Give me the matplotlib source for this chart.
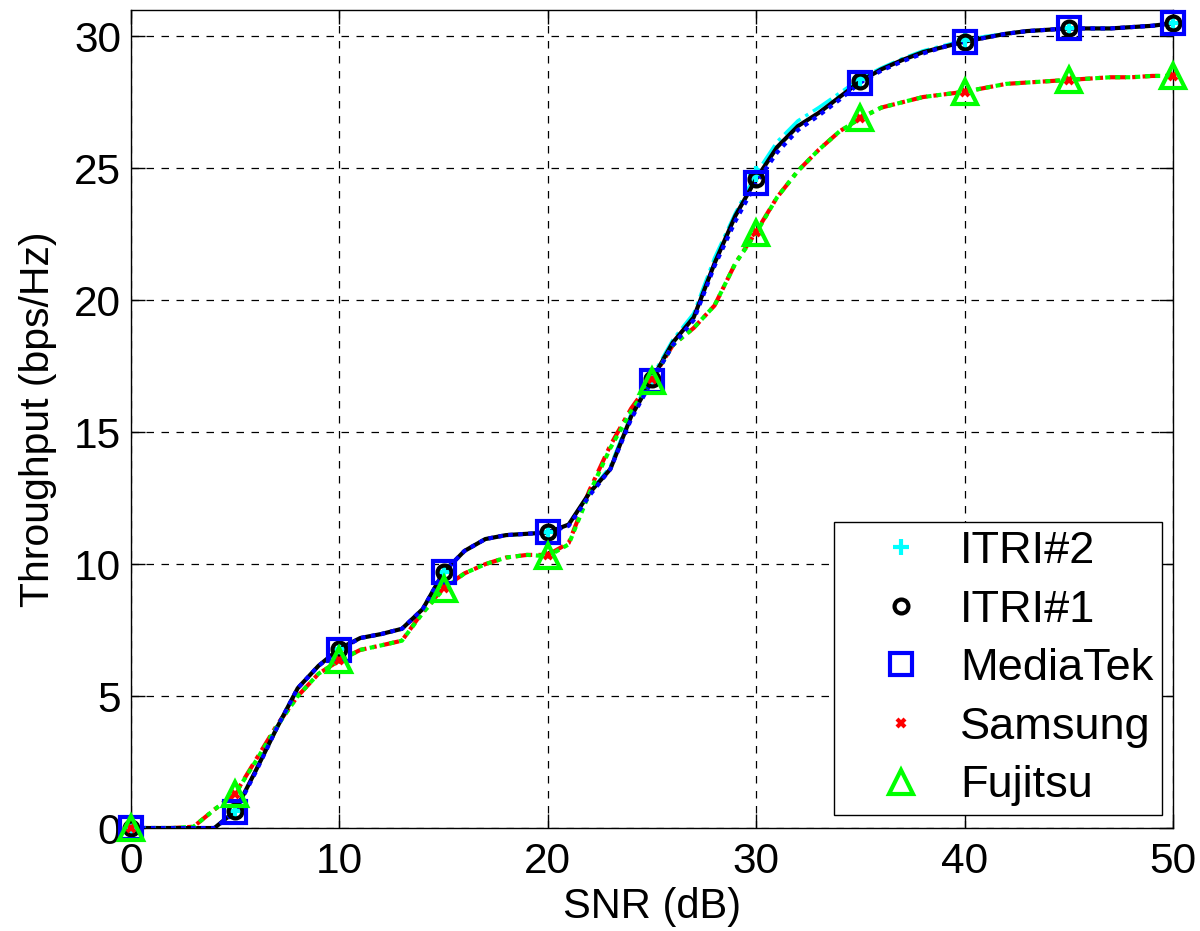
import numpy as np
import matplotlib
matplotlib.use("Agg")
import matplotlib.pyplot as plt

# SNR axis (dB) and throughput curves (bps/Hz)
snr = np.arange(0, 51)

itri2 = [0, 0, 0, 0, 0, 0.65, 2.2, 3.8, 5.3, 6.15,
         6.8, 7.2, 7.35, 7.55, 8.3, 9.7, 10.5, 10.95, 11.1, 11.15,
         11.2, 11.5, 12.7, 13.7, 15.7, 17.1, 18.5, 19.5, 21.6, 23.3,
         24.8, 26.0, 26.8, 27.3, 27.85, 28.4, 28.8, 29.15, 29.45, 29.65,
         29.85, 30.0, 30.1, 30.2, 30.25, 30.3, 30.3, 30.3, 30.35, 30.4, 30.5]

itri1 = [0, 0, 0, 0, 0, 0.65, 2.2, 3.8, 5.3, 6.15,
         6.8, 7.2, 7.35, 7.55, 8.3, 9.7, 10.5, 10.95, 11.1, 11.15,
         11.2, 11.5, 12.7, 13.6, 15.6, 17.0, 18.4, 19.35, 21.4, 23.2,
         24.6, 25.8, 26.6, 27.1, 27.7, 28.3, 28.75, 29.1, 29.4, 29.6,
         29.8, 29.95, 30.1, 30.2, 30.25, 30.3, 30.3, 30.3, 30.35, 30.4, 30.5]

mediatek = [0, 0, 0, 0, 0, 0.6, 2.15, 3.8, 5.3, 6.15,
            6.75, 7.2, 7.35, 7.55, 8.3, 9.7, 10.5, 10.95, 11.1, 11.15,
            11.2, 11.45, 12.6, 13.6, 15.5, 16.95, 18.3, 19.25, 21.3, 23.0,
            24.45, 25.6, 26.45, 27.0, 27.6, 28.25, 28.7, 29.05, 29.35, 29.6,
            29.8, 29.95, 30.1, 30.2, 30.25, 30.3, 30.3, 30.3, 30.35, 30.4, 30.5]

samsung = [0, 0, 0, 0.05, 0.7, 1.3, 2.6, 3.9, 5.0, 5.85,
           6.35, 6.75, 6.92, 7.1, 8.2, 9.1, 9.65, 10.0, 10.25, 10.35,
           10.35, 10.8, 12.8, 14.5, 15.9, 17.0, 18.3, 18.95, 19.8, 21.4,
           22.6, 23.9, 24.9, 25.7, 26.4, 26.9, 27.3, 27.5, 27.7, 27.8,
           27.9, 28.05, 28.2, 28.25, 28.3, 28.35, 28.4, 28.45, 28.45, 28.5, 28.5]

fujitsu = [0, 0, 0, 0.05, 0.7, 1.3, 2.55, 3.85, 5.0, 5.85,
           6.35, 6.75, 6.92, 7.1, 8.15, 9.05, 9.65, 10.0, 10.25, 10.35,
           10.3, 10.75, 12.7, 14.4, 15.8, 16.95, 18.3, 18.95, 19.8, 21.4,
           22.55, 23.9, 24.9, 25.7, 26.4, 26.9, 27.3, 27.5, 27.7, 27.8,
           27.9, 28.05, 28.2, 28.25, 28.3, 28.35, 28.4, 28.45, 28.45, 28.5, 28.5]

plt.rcParams["font.family"] = ["Liberation Sans", "DejaVu Sans"]

fig = plt.figure(figsize=(12, 9.31), dpi=100)
ax = fig.add_axes([0.1092, 0.1106, 0.8683, 0.8787])

# MATLAB-ish line styles (dotted lines with chunky dots)
ax.plot(snr, itri2, color="cyan", ls="-.", lw=2.5, zorder=3)
ax.plot(snr, itri1, color="black", ls="-", lw=3, zorder=4)
ax.plot(snr, mediatek, color="blue", ls=(0, (1.1, 1.3)), lw=3, zorder=5)
ax.plot(snr, samsung, color="red", ls=(0, (4, 1.5, 1, 1.5)), lw=3, zorder=3)
ax.plot(snr, fujitsu, color="#00ff00", ls=(0, (1.2, 1.2)), lw=3, zorder=4)

# markers every 5 dB
mk = [
    (itri2, "cyan", "+", 12, "ITRI#2"),
    (itri1, "black", "o", 10, "ITRI#1"),
    (mediatek, "blue", "s", 16, "MediaTek"),
    (samsung, "red", "x", 6, "Samsung"),
    (fujitsu, "#00ff00", "^", 17, "Fujitsu"),
]
handles = []
for ys, c, m, ms, lab in mk:
    h, = ax.plot(snr[::5], ys[::5], ls="none", marker=m, ms=ms, mew=3,
                 mec=c, mfc="none", label=lab, zorder=6, clip_on=False)
    handles.append(h)

ax.set_xlim(0, 50)
ax.set_ylim(0, 31)
ax.set_xticks(range(0, 51, 10))
ax.set_yticks(range(0, 31, 5))
ax.tick_params(direction="in", length=10, width=1, labelsize=30.5,
               top=True, right=True)
ax.tick_params(axis="x", pad=10)
ax.tick_params(axis="y", pad=7)
ax.grid(True, ls=(0, (6, 6)), color="black", lw=0.9)
for s in ax.spines.values():
    s.set_linewidth(1)

ax.set_xlabel("SNR (dB)", fontsize=30, labelpad=4)
ax.set_ylabel("Throughput (bps/Hz)", fontsize=29.5, labelpad=12)

leg = ax.legend(handles=handles, loc="lower right",
                bbox_to_anchor=(0.9894, 0.016), fontsize=32.5,
                fancybox=False, framealpha=1, edgecolor="black",
                handlelength=2.6, handletextpad=0.0, borderpad=0.19,
                labelspacing=0.39, borderaxespad=0)
leg.get_frame().set_linewidth(1)
leg.set_zorder(10)

fig.savefig("out.png", dpi=100)
